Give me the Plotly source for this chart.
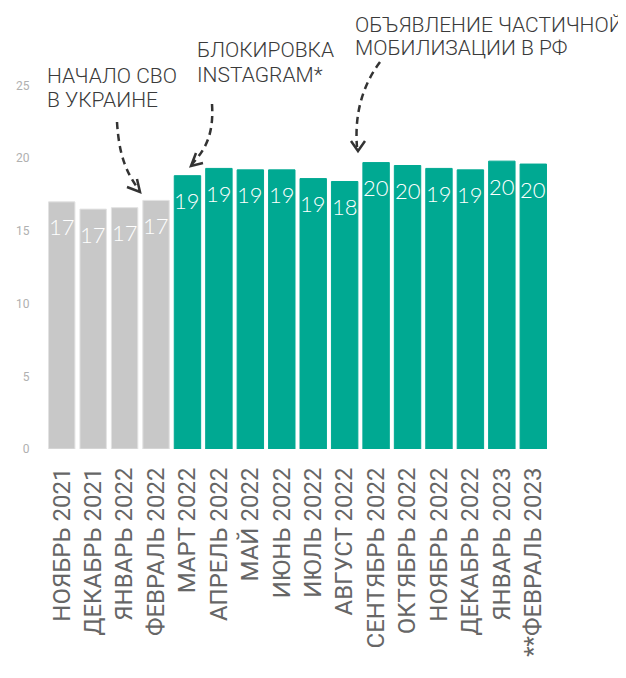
import plotly.graph_objects as go

months = ["НОЯБРЬ 2021", "ДЕКАБРЬ 2021", "ЯНВАРЬ 2022", "ФЕВРАЛЬ 2022", "МАРТ 2022",
          "АПРЕЛЬ 2022", "МАЙ 2022", "ИЮНЬ 2022", "ИЮЛЬ 2022", "АВГУСТ 2022",
          "СЕНТЯБРЬ 2022", "ОКТЯБРЬ 2022", "НОЯБРЬ 2022", "ДЕКАБРЬ 2022",
          "ЯНВАРЬ 2023", "**ФЕВРАЛЬ 2023"]
values = [17.0, 16.5, 16.6, 17.1, 18.8, 19.3, 19.2, 19.2, 18.6, 18.4,
          19.7, 19.5, 19.3, 19.2, 19.8, 19.6]
value_labels = ["17", "17", "17", "17", "19", "19", "19", "19", "19", "18",
                "20", "20", "19", "19", "20", "20"]
pre_war_count = 4
y_ticks = [0, 5, 10, 15, 20, 25]

GRAY = "#c8c8c8"
TEAL = "#00a992"
colors = [GRAY if i < pre_war_count else TEAL for i in range(len(months))]
line_colors = ["#e2e2e2" if i < pre_war_count else TEAL for i in range(len(months))]

W, H = 626, 678
OFF = 8  # page body margin: figure is drawn at (8, 8) on screen
# plot area in screen pixels
SL, SR, ST, SB = 46, 549, 71, 449
L, R, T, B = SL - OFF, SR - OFF, ST - OFF, SB - OFF
YMAX = 26

def px(x):
    return (x - SL) / (SR - SL)

def py(y):
    return (SB - y) / (SB - ST)

fig = go.Figure()
fig.add_trace(go.Bar(
    x=months, y=values,
    marker=dict(color=colors, line=dict(color=line_colors, width=1)),
    hoverinfo="skip",
))

annotations = []
for m, v, t in zip(months, values, value_labels):
    annotations.append(dict(
        x=m, y=v, xref="x", yref="y", text=t, showarrow=False,
        yanchor="middle", yshift=-25,
        font=dict(family="Lato", size=22, color="white", weight=300),
    ))

def add_text(x, y, text):
    annotations.append(dict(
        x=px(x), y=py(y), xref="paper", yref="paper", text=text,
        showarrow=False, xanchor="left", yanchor="middle",
        font=dict(family="Roboto", size=21, color="#3a3a3a", weight=300),
    ))

add_text(45, 76, "НАЧАЛО СВО")
add_text(45, 100, "В УКРАИНЕ")
add_text(195, 50, "БЛОКИРОВКА")
add_text(195, 75, "INSTAGRAM*")
add_text(353, 25, "ОБЪЯВЛЕНИЕ ЧАСТИЧНОЙ")
add_text(353, 48, "МОБИЛИЗАЦИИ В РФ")

def path(points_cmd):
    out = []
    for tok in points_cmd:
        if isinstance(tok, str):
            out.append(tok)
        else:
            out.append(f"{px(tok[0]):.5f},{py(tok[1]):.5f}")
    return " ".join(out)

shapes = []
dash_line = dict(color="#333333", width=2.5, dash="7px,5px")
solid_line = dict(color="#333333", width=2.5)

curves = [
    ["M", (117, 122), "C", (119, 155), (126, 172), (139, 190)],
    ["M", (212, 104), "C", (214, 135), (205, 150), (192, 164)],
    ["M", (380, 62), "C", (365, 82), (354, 110), (357, 147)],
]
heads = [
    ["M", (127, 187), "L", (140, 192), "L", (137, 179)],
    ["M", (203, 163), "L", (191, 166), "L", (196, 153)],
    ["M", (351, 141), "L", (358, 151), "L", (365, 141)],
]
for c in curves:
    shapes.append(dict(type="path", path=path(c), xref="paper", yref="paper",
                       line=dash_line, layer="above"))
for h in heads:
    shapes.append(dict(type="path", path=path(h), xref="paper", yref="paper",
                       line=solid_line, layer="above"))

fig.update_layout(
    width=W, height=H,
    margin=dict(l=L, r=W - R, t=T, b=H - B, pad=0, autoexpand=False),
    paper_bgcolor="white", plot_bgcolor="white",
    showlegend=False,
    bargap=0.16,
    annotations=annotations,
    shapes=shapes,
    xaxis=dict(
        type="category", tickangle=-90, showgrid=False, zeroline=False,
        showline=False, ticks="outside", ticklen=8, tickcolor="rgba(0,0,0,0)",
        tickfont=dict(family="Roboto", size=24, color="#666666"),
        automargin=False,
    ),
    yaxis=dict(
        range=[0, YMAX], tickvals=y_ticks, showgrid=False, zeroline=False,
        showline=False, ticks="outside", ticklen=13, tickcolor="rgba(0,0,0,0)",
        tickfont=dict(family="Roboto", size=12, color="#b0b0b0"),
        automargin=False,
    ),
)

fig.write_html("out.html")
